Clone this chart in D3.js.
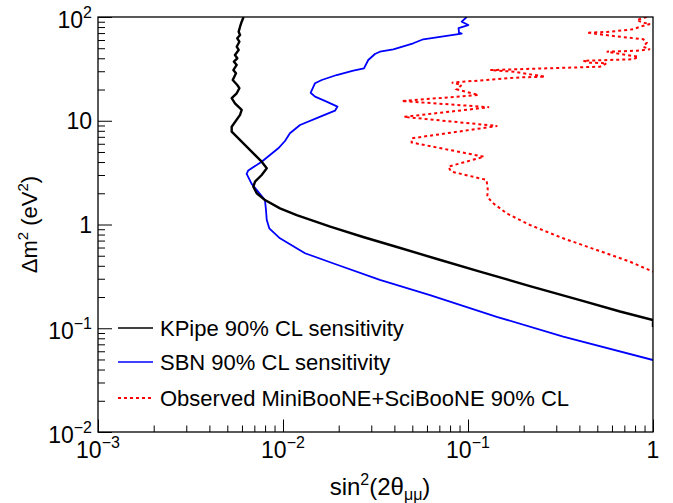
<!DOCTYPE html>
<html><head><meta charset="utf-8">
<script src="https://cdn.jsdelivr.net/npm/d3@7"></script>
<style>
body{margin:0;background:#fff}
text{font-family:"Liberation Sans",Arial,Helvetica,sans-serif;fill:#000}
</style>
</head><body>
<svg id="c" width="673" height="503"></svg>
<script>
// ---- data (sin^2(2theta), delta m^2 [eV^2]) ----
const kpipeS = [0.00612,0.00598,0.00586,0.00576,0.00586,0.00566,0.00581,0.00562,0.00576,0.00550,0.00566,0.00543,0.00562,0.00539,0.00557,0.00535,0.00566,0.00581,0.00562,0.00528,0.00550,0.00598,0.00586,0.00528,0.00528,0.00636,0.00767,0.00817,0.00767,0.00706,0.00691,0.00721,0.00799,0.00963,0.01186,0.0180,0.0271,0.0413,0.0680,0.116,0.216,0.403,0.663,1.0,1.0];
const kpipeM = [100,90.1,80.6,72.2,67.1,62.3,57.8,51.7,48.1,43.0,40.0,37.1,34.5,30.8,28.7,24.7,22.1,20.6,18.4,16.5,14.7,12.7,11.4,8.76,7.84,5.62,4.03,3.48,3.00,2.59,2.31,2.00,1.72,1.43,1.23,0.952,0.758,0.607,0.465,0.352,0.255,0.187,0.145,0.120,0.103];

const sbnS = [0.0984,0.0925,0.1004,0.0889,0.0894,0.0925,0.0573,0.0506,0.0395,0.0334,0.0314,0.0289,0.0274,0.0240,0.0195,0.0162,0.0149,0.0141,0.0149,0.0172,0.0197,0.0191,0.0158,0.01236,0.0109,0.01025,0.00943,0.00767,0.00649,0.00636,0.00677,0.00735,0.00799,0.00809,0.00817,0.00843,0.00963,0.01315,0.0191,0.0334,0.0623,0.143,0.327,1.0];
const sbnM = [100,90.1,83.7,78.3,70.6,69.3,61.0,55.8,48.8,46.3,44.0,38.5,32.0,30.4,27.6,24.7,23.0,18.6,17.1,15.3,13.7,12.5,10.9,9.10,7.57,6.38,5.43,4.03,3.32,3.07,2.46,2.06,1.72,1.38,1.105,0.919,0.736,0.528,0.416,0.292,0.209,0.129,0.0829,0.0494];

const mbS = [0.925,0.817,0.886,0.963,0.851,0.782,0.562,0.438,0.610,0.886,0.925,0.886,0.963,0.817,0.562,0.663,0.833,0.782,0.420,0.456,0.562,0.517,0.266,0.132,0.176,0.261,0.191,0.0817,0.0925,0.0869,0.114,0.0438,0.130,0.0451,0.144,0.0496,0.0496,0.122,0.0783,0.0809,0.126,0.128,0.127,0.137,0.162,0.216,0.327,0.496,0.751,1.0];
const mbM = [100,93.5,88.1,85.6,80.6,76.1,71.7,70.6,65.6,61.0,56.5,51.7,48.8,47.3,46.3,44.0,41.4,39.1,37.9,36.3,35.8,33.2,32.0,30.8,29.7,26.6,26.2,23.3,22.1,20.1,17.7,15.5,13.5,10.9,8.90,6.77,6.17,4.50,3.61,3.24,2.69,2.15,1.85,1.60,1.28,0.989,0.736,0.568,0.438,0.351];

const xMajor = [0.001,0.01,0.1,1];
const xTickBase = ["10","10","10","1"];
const xTickExp  = ["\u22123","\u22122","\u22121",""];
const yMajor = [0.01,0.1,1,10,100];
const yTickBase = ["10","10","1","10","10"];
const yTickExp  = ["\u22122","\u22121","","","2"];

const legendLabels = ["KPipe 90% CL sensitivity","SBN 90% CL sensitivity","Observed MiniBooNE+SciBooNE 90% CL"];
const seriesColors = ["#000000","#0000ff","#ff0000"];

// ---- layout ----
const L=98,R=653,T=17,B=432;
const svg=d3.select("#c");
svg.append("rect").attr("width",673).attr("height",503).attr("fill","#fff");
const x=d3.scaleLog().domain([1e-3,1]).range([L,R]);
const y=d3.scaleLog().domain([1e-2,1e2]).range([B,T]);

function minors(dom){const out=[];for(let e=Math.log10(dom[0]);e<Math.log10(dom[1]);e++){for(let k=2;k<=9;k++)out.push(k*Math.pow(10,e));}return out;}

svg.append("clipPath").attr("id","pc").append("rect").attr("x",L).attr("y",T).attr("width",R-L).attr("height",B-T);

const line=d3.line().x(d=>x(d[0])).y(d=>y(d[1]));
const g=svg.append("g").attr("clip-path","url(#pc)");
g.append("path").datum(mbS.map((s,i)=>[s,mbM[i]])).attr("d",line).attr("fill","none").attr("stroke",seriesColors[2]).attr("stroke-width",2).attr("stroke-dasharray","3,3");
g.append("path").datum(sbnS.map((s,i)=>[s,sbnM[i]])).attr("d",line).attr("fill","none").attr("stroke",seriesColors[1]).attr("stroke-width",1.8).attr("stroke-linejoin","round");
g.append("path").datum(kpipeS.map((s,i)=>[s,kpipeM[i]])).attr("d",line).attr("fill","none").attr("stroke",seriesColors[0]).attr("stroke-width",2.4).attr("stroke-linejoin","round");

// frame
svg.append("rect").attr("x",L).attr("y",T).attr("width",R-L).attr("height",B-T).attr("fill","none").attr("stroke","#000").attr("stroke-width",1.3);

function tickAxis(axis,vals,size,tr){
  const a=svg.append("g").attr("transform",tr).call(axis.tickValues(vals).tickSizeInner(size).tickSizeOuter(0).tickFormat(""));
  a.select(".domain").remove();
  a.selectAll("line").attr("stroke","#000").attr("stroke-width",1);
}
tickAxis(d3.axisBottom(x),xMajor,-12.5,`translate(0,${B})`);
tickAxis(d3.axisBottom(x),minors([1e-3,1]),-6.5,`translate(0,${B})`);
tickAxis(d3.axisLeft(y),yMajor,-14,`translate(${L},0)`);
tickAxis(d3.axisLeft(y),minors([1e-2,1e2]),-7,`translate(${L},0)`);

// tick labels
const FS=23, ES=16;
xMajor.forEach((v,i)=>{
  const t=svg.append("text").attr("x",x(v)).attr("y",458).attr("text-anchor","middle").style("font-size",FS+"px");
  t.append("tspan").text(xTickBase[i]);
  if(xTickExp[i]) t.append("tspan").attr("dy",-10).style("font-size",ES+"px").text(xTickExp[i]);
});
yMajor.forEach((v,i)=>{
  const t=svg.append("text").attr("x",92).attr("y",y(v)+(yTickExp[i]?11:8)).attr("text-anchor","end").style("font-size",FS+"px");
  t.append("tspan").text(yTickBase[i]);
  if(yTickExp[i]) t.append("tspan").attr("dy",-10).style("font-size",ES+"px").text(yTickExp[i]);
});

// axis titles
const xt=svg.append("text").attr("x",380).attr("y",495).attr("text-anchor","middle").style("font-size","24px");
xt.append("tspan").text("sin");
xt.append("tspan").attr("dy",-10).style("font-size","16px").text("2");
xt.append("tspan").attr("dy",10).text("(2\u03b8");
xt.append("tspan").attr("dy",5).style("font-size","16px").text("\u03bc\u03bc");
xt.append("tspan").attr("dy",-5).text(")");

const yt=svg.append("text").attr("transform",`translate(37,${(T+B)/2}) rotate(-90)`).attr("text-anchor","middle").style("font-size","22px");
yt.append("tspan").text("\u0394m");
yt.append("tspan").attr("dy",-9).style("font-size","15px").text("2");
yt.append("tspan").attr("dy",9).text(" (eV");
yt.append("tspan").attr("dy",-9).style("font-size","15px").text("2");
yt.append("tspan").attr("dy",9).text(")");

// legend
const rows=[328,362,398];
legendLabels.forEach((lab,i)=>{
  const ln=svg.append("line").attr("x1",118).attr("x2",153).attr("y1",rows[i]).attr("y2",rows[i]).attr("stroke",seriesColors[i]).attr("stroke-width",i==2?1.8:1.6);
  if(i==2) ln.attr("stroke-dasharray","3,3");
  svg.append("text").attr("x",160).attr("y",rows[i]+8).style("font-size","22px").text(lab);
});
</script>
</body></html>
